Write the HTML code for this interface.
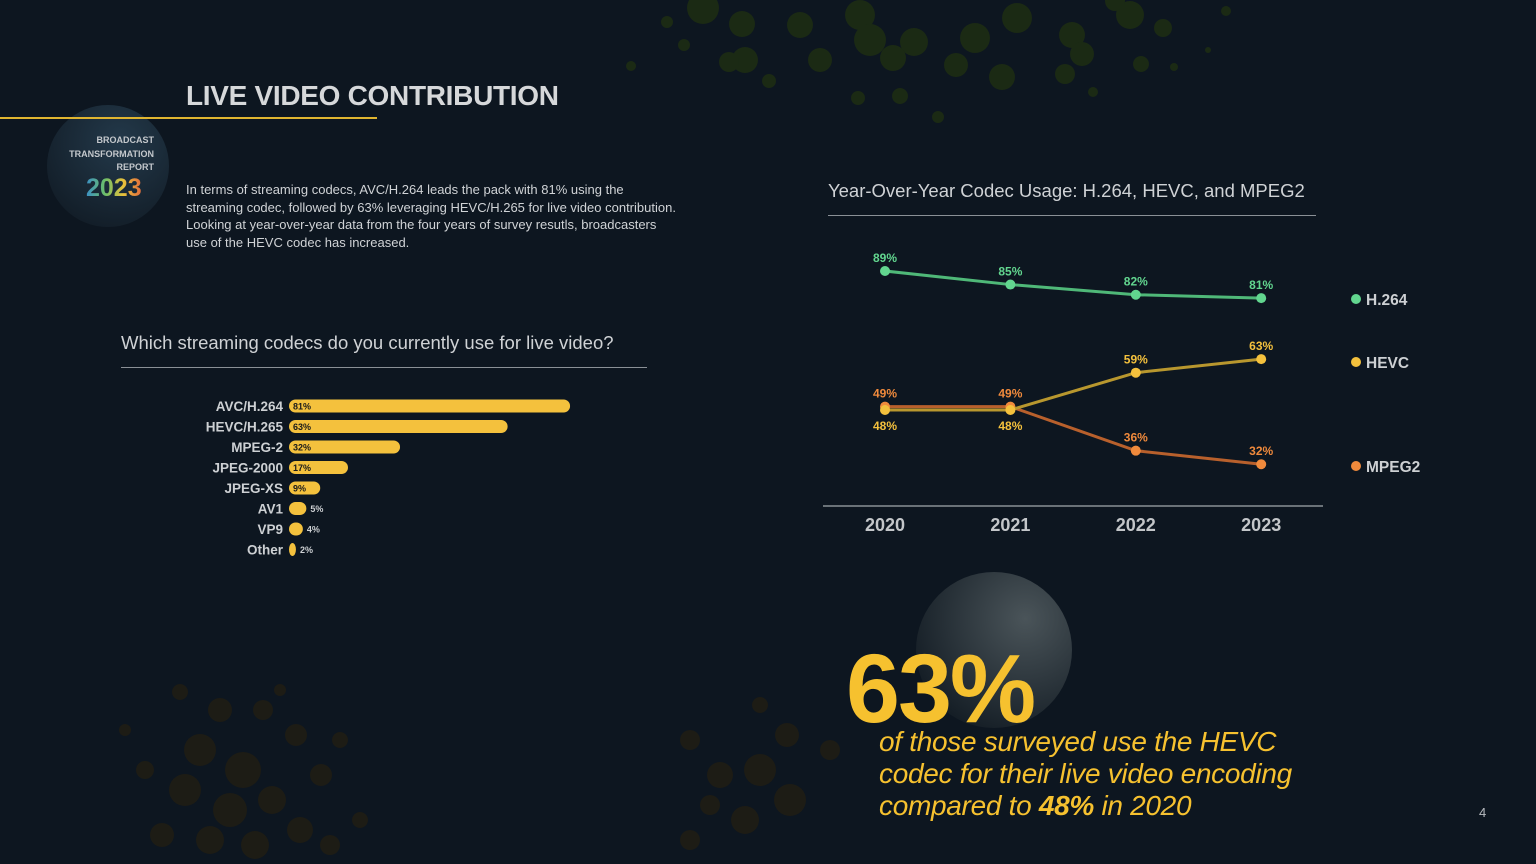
<!DOCTYPE html>
<html><head><meta charset="utf-8">
<style>
html,body{margin:0;padding:0;background:#0d1620;}
body{width:1536px;height:864px;position:relative;overflow:hidden;font-family:"Liberation Sans",sans-serif;}
.abs{position:absolute;}
</style></head>
<body>
<svg class="abs" style="left:0;top:0" width="1536" height="864">
<g fill="#1b2a14" id="topdots"></g>
<g fill="#1d1c15" id="botdots"></g>
<defs>
<radialGradient id="g1" cx="0.7" cy="0.3" r="0.8"><stop offset="0" stop-color="#4a5459"/><stop offset="1" stop-color="#131c24"/></radialGradient>
<radialGradient id="g2" cx="0.6" cy="0.3" r="0.8"><stop offset="0" stop-color="#23394a"/><stop offset="1" stop-color="#111b25"/></radialGradient>
</defs>
<circle cx="994" cy="650" r="78" fill="url(#g1)"/>
<circle cx="108" cy="166" r="61" fill="url(#g2)"/>
</svg>
<script>
const td=[[703,8,16],[742,24,13],[800,25,13],[860,15,15],[870,40,16],[914,42,14],[975,38,15],[1017,18,15],[1072,35,13],[1130,15,14],[1163,28,9],[1115,1,10],[745,60,13],[820,60,12],[893,58,13],[956,65,12],[1002,77,13],[1065,74,10],[1082,54,12],[1141,64,8],[729,62,10],[684,45,6],[667,22,6],[631,66,5],[769,81,7],[858,98,7],[900,96,8],[938,117,6],[1093,92,5],[1174,67,4],[1226,11,5],[1208,50,3]];
const bd=[[200,750,16],[243,770,18],[185,790,16],[230,810,17],[272,800,14],[210,840,14],[162,835,12],[255,845,14],[300,830,13],[321,775,11],[296,735,11],[263,710,10],[220,710,12],[180,692,8],[145,770,9],[125,730,6],[330,845,10],[360,820,8],[340,740,8],[280,690,6],[690,740,10],[720,775,13],[760,770,16],[790,800,16],[745,820,14],[710,805,10],[690,840,10],[830,750,10],[787,735,12],[760,705,8]];
const tg=document.getElementById('topdots'),bg=document.getElementById('botdots');
td.forEach(d=>{const c=document.createElementNS('http://www.w3.org/2000/svg','circle');c.setAttribute('cx',d[0]);c.setAttribute('cy',d[1]);c.setAttribute('r',d[2]);


tg.appendChild(c);});
bd.forEach(d=>{const c=document.createElementNS('http://www.w3.org/2000/svg','circle');c.setAttribute('cx',d[0]);c.setAttribute('cy',d[1]);c.setAttribute('r',d[2]);


bg.appendChild(c);});
</script>

<div class="abs" style="left:0;top:117px;width:377px;height:2px;background:#e0b530"></div>
<div class="abs" style="left:186px;top:80px;font-size:28px;font-weight:bold;color:#d6d8da;letter-spacing:-0.3px">LIVE VIDEO CONTRIBUTION</div>
<div class="abs" style="left:40px;width:114px;top:134px;text-align:right;font-size:9px;font-weight:bold;color:#c4c8cc;line-height:13.5px">BROADCAST<br>TRANSFORMATION<br>REPORT</div>
<div class="abs" style="left:86px;top:174px;font-size:25px;font-weight:bold;line-height:28px;background:linear-gradient(90deg,#3a8fc7,#6bbf6a,#e7c13b,#e36a3d);-webkit-background-clip:text;color:transparent">2023</div>
<div class="abs" style="left:186px;top:181px;width:490px;font-size:13px;line-height:17.5px;color:#d0d3d6">In terms of streaming codecs, AVC/H.264 leads the pack with 81% using the streaming codec, followed by 63% leveraging HEVC/H.265 for live video contribution. Looking at year-over-year data from the four years of survey resutls, broadcasters use of the HEVC codec has increased.</div>

<div class="abs" style="left:121px;top:332px;font-size:18.5px;color:#cfd2d5">Which streaming codecs do you currently use for live video?</div>
<div class="abs" style="left:121px;top:367px;width:526px;height:1px;background:#8a9096"></div>
<svg class="abs" style="left:0;top:0" width="1536" height="864" id="bars"></svg>
<script>
const barCats=["AVC/H.264","HEVC/H.265","MPEG-2","JPEG-2000","JPEG-XS","AV1","VP9","Other"];
const barVals=[81,63,32,17,9,5,4,2];
(function(){
const s=document.getElementById('bars'),NS='http://www.w3.org/2000/svg';
const x0=289,k=3.47,y0=406,step=20.5,h=13;
barCats.forEach((c,i)=>{
 const y=y0+i*step,w=Math.max(barVals[i]*k,6);
 const r=document.createElementNS(NS,'rect');
 r.setAttribute('x',x0);r.setAttribute('y',y-h/2);r.setAttribute('width',w);r.setAttribute('height',h);r.setAttribute('rx',h/2);r.setAttribute('fill','#f4c13d');
 
 
 s.appendChild(r);
 const l=document.createElementNS(NS,'text');
 l.setAttribute('x',283);l.setAttribute('y',y+5);l.setAttribute('text-anchor','end');l.setAttribute('font-size','13.5');l.setAttribute('font-weight','bold');l.setAttribute('fill','#cdd0d3');l.setAttribute('font-family','Liberation Sans, sans-serif');l.textContent=c;
 
 
 s.appendChild(l);
 const v=document.createElementNS(NS,'text');
 const inside=barVals[i]>=9;
 v.setAttribute('x',inside?x0+4:x0+w+4);v.setAttribute('y',y+3.5);v.setAttribute('font-size','9');v.setAttribute('font-weight','bold');v.setAttribute('fill',inside?'#1a1a1a':'#cdd0d3');v.setAttribute('font-family','Liberation Sans, sans-serif');v.textContent=barVals[i]+'%';
 
 
 s.appendChild(v);
});
})();
</script>

<div class="abs" style="left:828px;top:180px;font-size:18.5px;color:#cfd2d5">Year-Over-Year Codec Usage: H.264, HEVC, and MPEG2</div>
<div class="abs" style="left:828px;top:215px;width:488px;height:1px;background:#8a9096"></div>
<svg class="abs" style="left:0;top:0" width="1536" height="864" id="lines"></svg>
<script>
const years=["2020","2021","2022","2023"];
const h264=[89,85,82,81];
const hevc=[48,48,59,63];
const mpeg2=[49,49,36,32];
(function(){
const s=document.getElementById('lines'),NS='http://www.w3.org/2000/svg';
const X=i=>885+i*125.4, Y=v=>271+(89-v)*3.39;
function el(t,a){const e=document.createElementNS(NS,t);for(const k in a)e.setAttribute(k,a[k]);return e;}
const ax=el('line',{x1:823,x2:1323,y1:506,y2:506,stroke:'#8a9096','stroke-width':1.5});


s.appendChild(ax);
years.forEach((y,i)=>{const t=el('text',{x:X(i),y:531,'text-anchor':'middle','font-size':18,'font-weight':'bold',fill:'#c3c6c9','font-family':'Liberation Sans, sans-serif'});t.textContent=y;


s.appendChild(t);});
const series=[
 {name:'mpeg2',vals:mpeg2,line:'#b8602c',dot:'#f08a3c',lab:-9,leg:'MPEG2',ly:466},
 {name:'hevc',vals:hevc,line:'#b8972e',dot:'#f4c13d',lab:-9,leg:'HEVC',ly:362},
 {name:'h264',vals:h264,line:'#4fb878',dot:'#62d68f',lab:-9,leg:'H.264',ly:299}
];
series.forEach(sr=>{
 const pts=sr.vals.map((v,i)=>X(i)+','+Y(v)).join(' ');
 const p=el('polyline',{points:pts,fill:'none',stroke:sr.line,'stroke-width':3});
 
 
 s.appendChild(p);
 sr.vals.forEach((v,i)=>{
  const c=el('circle',{cx:X(i),cy:Y(v),r:5,fill:sr.dot});
  
  
  s.appendChild(c);
  let dy=sr.lab;
  if(sr.name==='hevc'&&i<2)dy=20;
  const t=el('text',{x:X(i),y:Y(v)+dy,'text-anchor':'middle','font-size':12,'font-weight':'bold',fill:sr.dot,'font-family':'Liberation Sans, sans-serif'});t.textContent=v+'%';
  
  
  s.appendChild(t);
 });
 const lc=el('circle',{cx:1356,cy:sr.ly,r:5,fill:sr.dot});
 
 
 s.appendChild(lc);
 const lt=el('text',{x:1366,y:sr.ly+6,'font-size':15.5,'font-weight':'bold',fill:'#cdd0d3','font-family':'Liberation Sans, sans-serif'});lt.textContent=sr.leg;
 
 
 s.appendChild(lt);
});
})();
</script>

<div class="abs" style="left:846px;top:637px;font-size:97px;font-weight:bold;color:#f6c12f;line-height:104px;letter-spacing:-2px">63%</div>
<div class="abs" style="left:879px;top:726px;font-size:28px;font-style:italic;color:#f6c12f;line-height:32px;letter-spacing:-0.3px">of those surveyed use the HEVC<br>codec for their live video encoding<br>compared to <b>48%</b> in 2020</div>
<div class="abs" style="left:1479px;top:805px;font-size:13px;color:#b8bcc0">4</div>
</body></html>
